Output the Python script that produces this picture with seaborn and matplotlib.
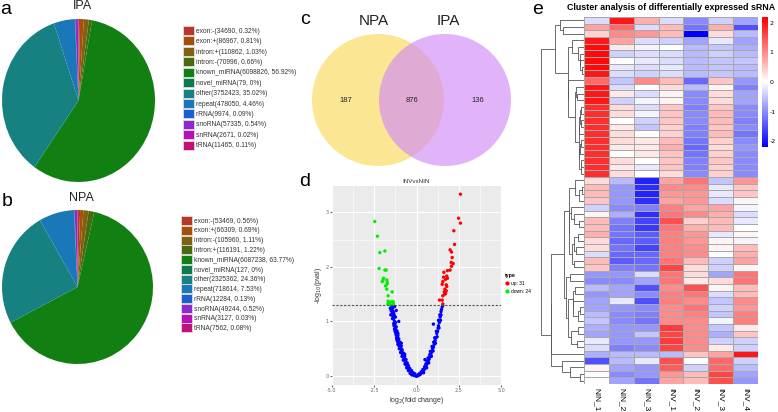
import numpy as np
import pandas as pd
import matplotlib
matplotlib.use("Agg")
import matplotlib.pyplot as plt
import matplotlib.patches as mpatches
from matplotlib.lines import Line2D
from matplotlib.colors import LinearSegmentedColormap
from matplotlib.ticker import AutoMinorLocator
import seaborn as sns

plt.rcParams["axes.unicode_minus"] = False

# ---------------- data ----------------
pie_categories_ipa = ["exon:-", "exon:+", "intron:+", "intron:-", "known_miRNA", "novel_miRNA",
                      "other", "repeat", "rRNA", "snoRNA", "snRNA", "tRNA"]
pie_counts_ipa = [34690, 86967, 110862, 70996, 6098826, 79, 3752423, 478050, 9974, 57335, 2671, 11465]
pie_categories_npa = ["exon:-", "exon:+", "intron:-", "intron:+", "known_miRNA", "novel_miRNA",
                      "other", "repeat", "rRNA", "snoRNA", "snRNA", "tRNA"]
pie_counts_npa = [53469, 66309, 105960, 116191, 6087238, 127, 2325362, 718614, 12284, 49244, 3127, 7562]
pie_colors = ["#b5382a", "#a4500a", "#7f6210", "#4a6a10", "#127f12", "#0b7a50",
              "#178080", "#1a78b8", "#1a5fd0", "#8a2ad0", "#b810b8", "#c0107a"]

venn_names = ["NPA", "IPA"]
venn_counts = [187, 876, 136]  # NPA only, both, IPA only

up_x = [2.60, 2.49, 2.60, 2.21, 2.25, 1.99, 2.07, 2.11, 2.05, 2.17, 2.07, 1.99, 1.83, 1.79, 1.62, 1.60,
        1.83, 1.56, 1.72, 1.52, 1.76, 1.79, 1.68, 1.76, 1.64, 1.72, 1.68, 1.56, 1.36, 1.52, 1.56]
up_y = [3.33, 2.89, 2.80, 2.66, 2.41, 2.31, 2.27, 2.17, 2.08, 2.06, 2.01, 1.94, 1.93, 1.83, 1.90, 1.81,
        1.79, 1.73, 1.77, 1.68, 1.67, 1.64, 1.59, 1.56, 1.54, 1.51, 1.50, 1.47, 1.39, 1.39, 1.32]
down_x = [-2.47, -2.31, -2.17, -1.87, -2.21, -1.87, -1.79, -1.95, -1.99, -2.03, -1.76, -1.72,
          -1.76, -1.83, -1.76, -1.44, -1.68, -1.68, -1.60, -1.48, -1.38, -1.70, -1.36, -1.56]
down_y = [2.83, 2.56, 2.26, 2.29, 1.97, 1.94, 1.94, 1.79, 1.75, 1.73, 1.76, 1.71,
          1.68, 1.65, 1.59, 1.54, 1.47, 1.37, 1.34, 1.36, 1.36, 1.32, 1.32, 1.31]
ns_x = [-1.48, -1.42, -1.50, -1.45, -1.38, -1.40, -1.33, -1.36, -1.30, -1.28, -1.33, -1.25, -1.22,
        -1.27, -1.18, -1.20, -1.14, -1.12, -1.16, -1.08, -1.05, -1.10, -1.00, -0.96, -1.02, -0.92,
        -0.88, -0.94, -0.84, -0.80, -0.86, -0.75, -0.72, -0.78, -0.66, -0.62, -0.68, -0.56, -0.52,
        -0.58, -0.46, -0.42, -0.48, -0.36, -0.32, -0.38, -0.26, -0.22, -0.28, -0.16, -0.12, -0.08,
        -0.04, -1.55, -1.25, -1.10, -0.90, -0.70,
        -1.45, -1.35, -1.42, -1.30, -1.25, -1.35, -1.20, -1.30, -1.15, -1.22, -1.10, -1.18, -1.05,
        -1.12, -0.98, -1.05, -0.90, -0.98, -0.85, -0.90, -0.78, -0.82, -0.70, -0.74, -0.62, -0.66,
        -0.55, -0.60, -0.48, -0.52, -0.40, -0.44, -0.30, -0.34, -0.20, -0.24, -0.10, -0.14,
        -1.30, -1.20, -1.05, -1.52, -1.40,
        1.52, 1.48, 1.45, 1.40, 1.42, 1.35, 1.30, 1.33, 1.25, 1.20, 1.22, 1.15, 1.10, 1.12, 1.05,
        1.00, 0.95, 0.98, 0.90, 0.85, 0.88, 0.80, 0.75, 0.70, 0.72, 0.64, 0.58, 0.60, 0.52, 0.46,
        0.40, 0.42, 0.34, 0.28, 0.22, 0.16, 0.10, 0.04, 1.55, 0.00,
        1.45, 1.38, 1.30, 1.28, 1.18, 1.08, 1.02, 0.92, 0.82, 0.78, 0.68, 0.62, 0.55, 0.48, 0.38,
        0.30, 0.20, 0.12, 1.00, 0.50]
ns_y = [1.28, 1.25, 1.20, 1.15, 1.18, 1.10, 1.12, 1.05, 1.00, 0.95, 0.92, 0.90, 0.85,
        0.82, 0.80, 0.75, 0.74, 0.70, 0.66, 0.66, 0.62, 0.58, 0.58, 0.55, 0.50, 0.50,
        0.46, 0.43, 0.42, 0.38, 0.36, 0.35, 0.31, 0.29, 0.28, 0.24, 0.22, 0.21, 0.18,
        0.15, 0.15, 0.12, 0.10, 0.09, 0.07, 0.05, 0.05, 0.04, 0.02, 0.03, 0.02, 0.01,
        0.00, 1.24, 1.08, 0.78, 0.60, 0.40,
        1.22, 1.15, 1.05, 1.08, 0.98, 0.96, 0.90, 0.86, 0.82, 0.78, 0.74, 0.70, 0.68,
        0.63, 0.62, 0.56, 0.55, 0.52, 0.48, 0.45, 0.42, 0.40, 0.36, 0.33, 0.30, 0.26,
        0.24, 0.20, 0.19, 0.15, 0.14, 0.10, 0.10, 0.06, 0.06, 0.03, 0.04, 0.01,
        1.27, 1.20, 1.00, 1.12, 1.27,
        1.27, 1.22, 1.12, 1.08, 1.02, 0.98, 0.92, 0.88, 0.82, 0.78, 0.72, 0.70, 0.65, 0.60, 0.58,
        0.53, 0.50, 0.46, 0.44, 0.40, 0.36, 0.35, 0.31, 0.28, 0.24, 0.23, 0.19, 0.15, 0.15, 0.12,
        0.09, 0.06, 0.07, 0.05, 0.03, 0.02, 0.01, 0.00, 1.29, 0.00,
        1.18, 1.12, 1.02, 0.88, 0.82, 0.70, 0.62, 0.54, 0.45, 0.39, 0.33, 0.27, 0.22, 0.17, 0.12,
        0.08, 0.05, 0.03, 0.95, 0.30]

samples = ["NIN_1", "NIN_2", "NIN_3", "INV_1", "INV_2", "INV_3", "INV_4"]
NIN_1 = [-0.3, 0.8, 0.4, 2.0, 2.1, 2.1, 2.1, 2.1, 2.0, 1.3, 2.0, 2.0, 2.0, 1.8, 1.8, 1.8, 1.8, 1.8, 1.8,
         1.8, 1.8, 1.8, 1.8, 1.8, 0.3, 0.6, 0.6, 0.5, -0.4, 0.1, 0.6, 0.6, 0.7, 0.3, 0.3, -0.3, 0.6,
         0.5, -0.9, -1.0, -0.6, -0.9, -0.8, -0.8, -0.6, -0.5, -0.7, -0.8, -0.2, -0.3, -0.7, -1.5, 0.1,
         0.0, 0.0]
NIN_2 = [2.0, 1.3, 1.0, 0.8, 0.2, -0.4, 0.0, -0.2, -0.3, -0.5, -0.3, 0.2, -0.4, 0.3, 0.3, 0.0, 0.2,
         0.3, 0.3, 0.2, 0.0, 0.3, 0.2, 0.3, -0.6, -0.9, -0.9, -0.9, -1.0, -0.7, -1.1, -1.2, -1.2, -1.3,
         -1.2, -1.3, -1.4, -1.1, -0.9, -1.0, -0.8, -0.8, -0.2, -0.9, -1.0, -1.0, -0.9, -0.9, -0.9,
         -1.1, -0.6, -0.6, -0.8, -1.0, -0.8]
NIN_3 = [0.7, -0.3, 0.9, -0.3, -0.1, -0.3, -0.2, -0.3, -0.4, 1.0, 0.0, -0.3, -0.1, -0.3, -0.1, -0.4,
         -0.5, 0.0, 0.2, 0.2, 0.2, 0.0, -0.2, 0.0, -1.9, -1.8, -1.9, -1.8, -1.1, -1.8, -1.6, -1.7,
         -1.4, -1.4, -1.6, -1.3, -1.3, -1.2, -0.3, -0.8, -1.5, -1.0, -1.5, -1.0, -1.1, -1.2, -0.9,
         -0.5, -0.9, -1.0, -0.6, -0.2, -0.9, -0.9, -1.2]
INV_1 = [-0.3, 0.6, 0.6, -0.4, 0.0, -0.3, -0.3, -0.2, -0.3, 0.6, 0.3, 0.1, 0.1, 0.5, 0.5, 0.5, 0.4,
         0.4, 0.6, 0.7, 0.5, 0.5, 0.5, 0.3, 0.8, 1.0, 0.9, 0.8, 1.1, 1.2, 1.5, 1.2, 1.1, 1.1, 1.1, 1.1,
         1.2, 1.6, 1.2, 1.2, 1.0, 1.1, 1.1, 1.0, 1.0, 1.0, 1.7, 1.6, 1.7, 1.6, -0.6, 1.5, 1.4, 0.9, 0.8]
INV_2 = [-1.0, -1.2, -2.2, -0.8, -0.6, -0.6, -0.6, -0.6, -0.6, -1.3, -0.6, -1.0, -1.0, -1.1, -1.0,
         -1.0, -1.1, -1.1, -1.2, -1.3, -1.2, -1.1, -1.1, -1.0, 1.2, 1.0, 0.9, 0.9, 0.8, 1.0, 0.4, 0.7,
         0.9, 0.9, 1.0, 1.0, 0.6, 0.3, 0.3, 0.2, 1.5, 1.2, 1.0, 1.2, 1.1, 1.0, 1.0, 1.0, 1.0, 1.0, 0.5,
         0.0, -0.4, 0.6, 0.6]
INV_3 = [-0.4, 0.7, 0.3, -0.2, -0.5, -0.4, -0.5, -0.5, -0.5, 0.5, 0.1, 0.3, 0.3, 0.5, 0.6, 0.6, 0.5,
         0.6, 0.4, 0.3, 0.4, 0.5, 0.4, 0.4, -0.5, -0.2, -0.2, -0.3, 0.8, 0.7, 0.6, 0.6, -0.2, 0.1, 0.1,
         0.0, -0.4, -0.4, -0.8, 0.3, 0.1, -0.3, -0.5, -0.4, -0.5, -0.1, -0.5, -0.7, -0.4, 0.2, 0.8,
         1.3, 1.3, 1.6, 1.5]
INV_4 = [-0.8, -1.5, -0.6, -0.8, -0.7, -0.6, -0.5, -0.6, -0.6, -0.9, -1.1, -0.8, -0.8, -1.0, -1.0,
         -1.1, -1.0, -1.2, -1.0, -0.9, -1.0, -1.0, -1.0, -1.0, 0.9, 0.5, 0.5, 0.1, -0.1, -0.3, -0.2,
         0.0, 0.1, -0.1, 0.6, 0.7, 0.8, 0.1, 1.2, 1.2, 0.6, 0.6, 1.0, 0.9, 1.1, 1.1, 0.2, 0.5, -0.4,
         -0.4, 2.0, -0.4, -0.6, -0.8, -0.9]
cbar_ticks = [-2, -1, 0, 1, 2]

# ---------------- figure helpers ----------------
W, H = 778, 412
fig = plt.figure(figsize=(W / 100, H / 100), dpi=100)


def px_axes(x0, y0, x1, y1):
    return fig.add_axes([x0 / W, 1 - y1 / H, (x1 - x0) / W, (y1 - y0) / H])


def px_text(x, y, s, **kw):
    fig.text(x / W, 1 - y / H, s, **kw)


sans = ["Liberation Sans", "DejaVu Sans"]


def pie_panel(box, counts, cats, legend_xy, step):
    ax = px_axes(*box)
    ax.pie(counts, colors=pie_colors, startangle=90, counterclock=False,
           wedgeprops=dict(linewidth=0))
    ax.set_aspect("auto")
    ax.set_xlim(-1, 1)
    ax.set_ylim(-1, 1)
    ax.axis("off")
    total = sum(counts)
    labels = [f"{c}({n}, {round(n / total * 100, 2):g}%)" for c, n in zip(cats, counts)]
    handles = [mpatches.Patch(facecolor=col, edgecolor="#e6e6e6", linewidth=0.5) for col in pie_colors]
    fs = 4.8
    fs_px = fs * 100 / 72
    hh = 1.7
    ax.legend(handles, labels, loc="upper left",
              bbox_to_anchor=(legend_xy[0] / W, 1 - legend_xy[1] / H),
              bbox_transform=fig.transFigure, frameon=False,
              prop=dict(family=sans, size=fs), labelcolor="#333333",
              handlelength=hh, handleheight=hh, handletextpad=0.25,
              labelspacing=(step - hh * fs_px) / fs_px, borderpad=0, borderaxespad=0)
    return ax


# ---------------- a / b : pies ----------------
pie_panel((2, 19, 155, 182), pie_counts_ipa, pie_categories_ipa, (183, 26), 12.75)
px_text(82, 6, "IPA", ha="center", va="center", fontsize=9, family=sans, color="#222222")
pie_panel((2, 210, 153, 364), pie_counts_npa, pie_categories_npa, (181, 216), 12.1)
px_text(81, 198, "NPA", ha="center", va="center", fontsize=9, family=sans, color="#222222")

# ---------------- c : venn ----------------
axv = px_axes(300, 0, 530, 185)
axv.set_xlim(300, 530)
axv.set_ylim(185, 0)
axv.axis("off")
axv.add_patch(mpatches.Circle((378, 100), 66, facecolor="#fbe07a", alpha=0.8, linewidth=0))
axv.add_patch(mpatches.Circle((445, 100), 66, facecolor="#d18cf7", alpha=0.65, linewidth=0))
axv.text(374, 21, venn_names[0], ha="center", va="center", fontsize=11, family=sans, color="#222222")
axv.text(448, 21, venn_names[1], ha="center", va="center", fontsize=11, family=sans, color="#222222")
for xx, n in zip([346, 412, 478], venn_counts):
    axv.text(xx, 100, str(n), ha="center", va="center", fontsize=5.5, family=sans, color="#222222")

# ---------------- d : volcano ----------------
volcano = pd.DataFrame({
    "log2fc": ns_x + up_x + down_x,
    "neglogp": ns_y + up_y + down_y,
    "type": ["no"] * len(ns_x) + ["up"] * len(up_x) + ["down"] * len(down_x),
})
axd = px_axes(332, 186, 501, 385)
axd.set_facecolor("#ebebeb")
for s in axd.spines.values():
    s.set_visible(False)
axd.xaxis.set_minor_locator(AutoMinorLocator(2))
axd.yaxis.set_minor_locator(AutoMinorLocator(2))
axd.grid(which="major", color="white", linewidth=0.8)
axd.grid(which="minor", color="white", linewidth=0.4)
axd.set_axisbelow(True)
sns.scatterplot(data=volcano, x="log2fc", y="neglogp", hue="type",
                palette={"no": "#0000ff", "up": "#ff0000", "down": "#00ee00"},
                hue_order=["no", "up", "down"], s=6, linewidth=0, legend=False, ax=axd)
axd.axhline(-np.log10(0.05), color="#555555", linestyle=(0, (2, 1.5)), linewidth=0.8)
axd.set_xlim(-5, 5)
axd.set_ylim(-0.165, 3.48)
axd.set_xticks([-5.0, -2.5, 0.0, 2.5, 5.0])
axd.set_xticklabels(["-5.0", "-2.5", "0.0", "2.5", "5.0"])
axd.set_yticks([0, 1, 2, 3])
axd.tick_params(which="both", length=1.5, labelsize=3.5, labelcolor="#666666", color="#666666", pad=1)
axd.tick_params(which="minor", length=0)
axd.set_xlabel("log$_{2}$(fold change)", fontsize=5, family=sans, color="#333333", labelpad=1)
axd.set_ylabel("-log$_{10}$(pval)", fontsize=5, family=sans, color="#333333", labelpad=1)
axd.set_title("INVvsNIN", fontsize=4.5, family=sans, color="#333333", pad=2)
leg_handles = [Line2D([0], [0], marker="o", linestyle="", markersize=2, color="#ff0000"),
               Line2D([0], [0], marker="o", linestyle="", markersize=2, color="#00ee00")]
leg = axd.legend(leg_handles, [f"up: {len(up_x)}", f"down: {len(down_x)}"], title="type",
                 loc="center left", bbox_to_anchor=(1.01, 0.51), frameon=False,
                 prop=dict(family=sans, size=3.5), title_fontproperties=dict(family=sans, size=3.8, weight="bold"),
                 handlelength=0.8, handletextpad=0.4, labelspacing=0.6, borderpad=0)
leg._legend_box.align = "left"

# ---------------- e : clustered heatmap ----------------
hm = pd.DataFrame({"NIN_1": NIN_1, "NIN_2": NIN_2, "NIN_3": NIN_3, "INV_1": INV_1,
                   "INV_2": INV_2, "INV_3": INV_3, "INV_4": INV_4})[samples]
cmap = LinearSegmentedColormap.from_list("bwr_ph", ["#0000ff", "#ffffff", "#ff0000"])
axh = px_axes(584, 17, 758, 384)
axc = px_axes(762, 17, 768, 147)
sns.heatmap(hm, ax=axh, cmap=cmap, vmin=-2.2, vmax=2.2, linewidths=0.5, linecolor="#a8a8a8",
            cbar_ax=axc, xticklabels=samples, yticklabels=False)
axh.tick_params(axis="x", length=0, labelsize=6, pad=3)
for lab in axh.get_xticklabels():
    lab.set_rotation(-90)
    lab.set_va("top")
    lab.set_family(sans)
axh.set_xlabel("")
axh.set_ylabel("")
axc.set_yticks(cbar_ticks)
axc.tick_params(length=0, labelsize=4.5, pad=1)
for s in axc.spines.values():
    s.set_visible(False)

# row dendrogram (neighbour-constrained average linkage on the displayed rows)
axdn = px_axes(540, 17, 584, 384)
mat = hm.to_numpy()
clusters = [{"rows": [i], "h": 0.0, "y": i + 0.5} for i in range(len(mat))]
links = []
while len(clusters) > 1:
    best = None
    for k in range(len(clusters) - 1):
        a, b = clusters[k], clusters[k + 1]
        d = np.mean([np.linalg.norm(mat[i] - mat[j]) for i in a["rows"] for j in b["rows"]])
        if best is None or d < best[0]:
            best = (d, k)
    d, k = best
    a, b = clusters[k], clusters[k + 1]
    h = max(d, a["h"], b["h"])
    links.append(([a["h"], h, h, b["h"]], [a["y"], a["y"], b["y"], b["y"]]))
    clusters[k:k + 2] = [{"rows": a["rows"] + b["rows"], "h": h, "y": (a["y"] + b["y"]) / 2}]
for xs, ys in links:
    axdn.plot(xs, ys, color="#555555", linewidth=0.6)
root = clusters[0]["h"]
axdn.set_xlim(root * 1.03, 0)
axdn.set_ylim(len(mat), 0)
axdn.axis("off")

px_text(671, 8, "Cluster analysis of differentially expressed sRNA", ha="center", va="center",
        fontsize=6.4, fontweight="bold", family=sans)

# ---------------- panel letters ----------------
for x, y, s in [(6, 9, "a"), (7, 202, "b"), (305, 20, "c"), (305, 181, "d"), (538, 10, "e")]:
    px_text(x, y, s, ha="center", va="center", fontsize=14, family=sans, color="black")

fig.savefig("out.png", dpi=100)
